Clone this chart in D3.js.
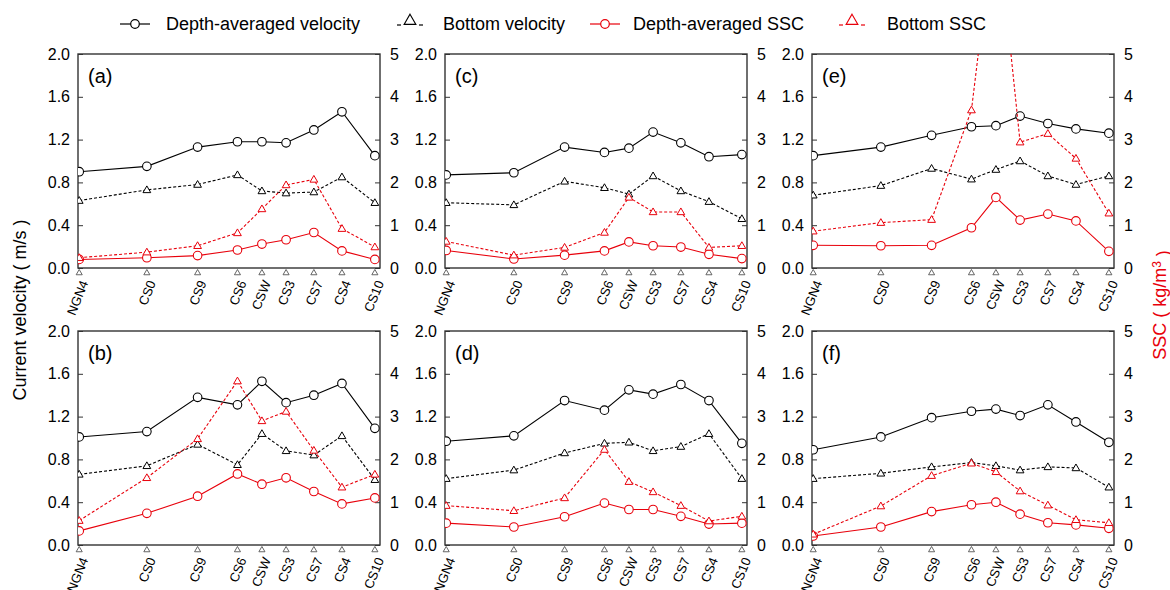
<!DOCTYPE html>
<html>
<head>
<meta charset="utf-8">
<script src="https://cdn.jsdelivr.net/npm/d3@7"></script>
<style>
  body { margin: 0; background: #fff; }
  svg { font-family: "Liberation Sans", Arial, sans-serif; }
</style>
</head>
<body>
<svg id="chart" width="1170" height="590"></svg>
<script>
// Stations and their along-channel position (0-100)
const stations = ['NGN4', 'CS0', 'CS9', 'CS6', 'CSW', 'CS3', 'CS7', 'CS4', 'CS10'];
const stationPos = [0.4, 22.8, 39.6, 52.8, 60.9, 68.9, 78.1, 87.4, 98.3];

const panelLabels = ['(a)', '(b)', '(c)', '(d)', '(e)', '(f)'];

// velocity (m/s)
const depthVel = [
  [0.90, 0.95, 1.13, 1.18, 1.18, 1.17, 1.29, 1.46, 1.05],
  [1.01, 1.06, 1.38, 1.31, 1.53, 1.33, 1.40, 1.51, 1.09],
  [0.87, 0.89, 1.13, 1.08, 1.12, 1.27, 1.17, 1.04, 1.06],
  [0.97, 1.02, 1.35, 1.26, 1.45, 1.41, 1.50, 1.35, 0.95],
  [1.05, 1.13, 1.24, 1.32, 1.33, 1.42, 1.35, 1.30, 1.26],
  [0.89, 1.01, 1.19, 1.25, 1.27, 1.21, 1.31, 1.15, 0.96]
];
const bottomVel = [
  [0.63, 0.73, 0.78, 0.87, 0.72, 0.70, 0.71, 0.85, 0.61],
  [0.66, 0.74, 0.94, 0.75, 1.04, 0.88, 0.84, 1.02, 0.61],
  [0.61, 0.59, 0.81, 0.75, 0.69, 0.86, 0.72, 0.62, 0.46],
  [0.62, 0.70, 0.86, 0.95, 0.96, 0.88, 0.92, 1.04, 0.62],
  [0.68, 0.77, 0.93, 0.83, 0.92, 1.00, 0.86, 0.78, 0.86],
  [0.62, 0.67, 0.73, 0.77, 0.74, 0.70, 0.73, 0.72, 0.54]
];
// SSC (kg/m3)
const depthSSC = [
  [0.20, 0.24, 0.29, 0.42, 0.56, 0.66, 0.83, 0.40, 0.20],
  [0.33, 0.74, 1.14, 1.66, 1.42, 1.57, 1.25, 0.96, 1.10],
  [0.41, 0.21, 0.30, 0.40, 0.61, 0.52, 0.49, 0.32, 0.22],
  [0.51, 0.42, 0.66, 0.98, 0.83, 0.83, 0.67, 0.49, 0.51],
  [0.53, 0.52, 0.53, 0.94, 1.65, 1.12, 1.26, 1.10, 0.39],
  [0.21, 0.42, 0.78, 0.94, 1.00, 0.72, 0.52, 0.47, 0.39]
];
const bottomSSC = [
  [0.24, 0.37, 0.52, 0.82, 1.38, 1.94, 2.07, 0.92, 0.49],
  [0.57, 1.57, 2.48, 3.83, 2.90, 3.12, 2.21, 1.35, 1.65],
  [0.62, 0.30, 0.48, 0.83, 1.65, 1.31, 1.31, 0.48, 0.52],
  [0.92, 0.80, 1.10, 2.23, 1.48, 1.24, 0.92, 0.56, 0.67],
  [0.86, 1.06, 1.13, 3.69, 8.4, 2.94, 3.14, 2.56, 1.28],
  [0.25, 0.91, 1.62, 1.91, 1.71, 1.26, 0.93, 0.59, 0.52]
];

const velTicks = [0, 0.4, 0.8, 1.2, 1.6, 2.0];
const sscTicks = [0, 1, 2, 3, 4, 5];

const svg = d3.select('#chart');
const colLeft = [78, 445, 812];
const rowTop = [54, 331];
const pw = 302, ph = 214;

const x = d3.scaleLinear().domain([0, 100]).range([0, pw]);
const yV = d3.scaleLinear().domain([0, 2]).range([ph, 0]);
const yS = d3.scaleLinear().domain([0, 5]).range([ph, 0]);

const tri = d3.symbol().type(d3.symbolTriangle).size(26);
const triSmall = d3.symbol().type(d3.symbolTriangle).size(16);

panelLabels.forEach((lab, i) => {
  const col = Math.floor(i / 2), row = i % 2;
  const g = svg.append('g').attr('transform', `translate(${colLeft[col]},${rowTop[row]})`);

  // clip so off-scale values get cut at the frame
  const clipId = 'clip' + i;
  g.append('clipPath').attr('id', clipId)
    .append('rect').attr('width', pw).attr('height', ph);

  // left axis
  const la = g.append('g').call(d3.axisLeft(yV).tickValues(velTicks).tickSize(-5).tickPadding(8).tickFormat(d3.format('.1f')));
  // right axis
  const ra = g.append('g').attr('transform', `translate(${pw},0)`)
    .call(d3.axisRight(yS).tickValues(sscTicks).tickSize(-5).tickPadding(10).tickFormat(d3.format('d')));
  [la, ra].forEach(a => {
    a.select('.domain').remove();
    a.selectAll('text').style('font-size', '16px').attr('fill', '#000');
    a.selectAll('line').attr('stroke', '#333');
  });

  g.append('rect').attr('width', pw).attr('height', ph)
    .attr('fill', 'none').attr('stroke', '#333').attr('stroke-width', 1.4);

  g.append('text').attr('x', 10).attr('y', 29).style('font-size', '20px').text(lab);

  const plot = g.append('g').attr('clip-path', `url(#${clipId})`);
  const pts = (vals, ys) => vals.map((v, k) => [x(stationPos[k]), ys(v)]);
  const line = d3.line();

  const series = [
    { vals: depthVel[i], ys: yV, color: '#000', dash: null, mark: 'c' },
    { vals: bottomVel[i], ys: yV, color: '#000', dash: '3,2', mark: 't' },
    { vals: depthSSC[i], ys: yS, color: '#e8000b', dash: null, mark: 'c' },
    { vals: bottomSSC[i], ys: yS, color: '#e8000b', dash: '3,2', mark: 't' }
  ];
  series.forEach(s => {
    const p = pts(s.vals, s.ys);
    plot.append('path').attr('d', line(p)).attr('fill', 'none')
      .attr('stroke', s.color).attr('stroke-width', 1.1)
      .attr('stroke-dasharray', s.dash);
    p.forEach(q => {
      if (s.mark === 'c') {
        plot.append('circle').attr('cx', q[0]).attr('cy', q[1]).attr('r', 4.3)
          .attr('fill', '#fff').attr('stroke', s.color).attr('stroke-width', 1.1);
      } else {
        plot.append('path').attr('d', tri).attr('transform', `translate(${q[0]},${q[1] + 0.5})`)
          .attr('fill', '#fff').attr('stroke', s.color).attr('stroke-width', 1);
      }
    });
  });

  // station markers below the axis and rotated station names
  stations.forEach((st, k) => {
    const sx = x(stationPos[k]);
    g.append('path').attr('d', triSmall).attr('transform', `translate(${sx},${ph + 5})`)
      .attr('fill', '#fff').attr('stroke', '#555').attr('stroke-width', 0.9);
    g.append('text')
      .attr('transform', `translate(${sx + 5},${ph + 13}) rotate(-68)`)
      .attr('text-anchor', 'end').attr('dy', '0.35em')
      .style('font-size', '13px').text(st);
  });
});

// axis titles
svg.append('text').attr('transform', 'translate(26,310) rotate(-90)')
  .attr('text-anchor', 'middle').style('font-size', '18px').text('Current velocity ( m/s )');
const sscTitle = svg.append('text').attr('transform', 'translate(1166,305) rotate(-90)')
  .attr('text-anchor', 'middle').style('font-size', '18px').attr('fill', '#e8000b');
sscTitle.append('tspan').text('SSC ( kg/m');
sscTitle.append('tspan').attr('dy', '-0.45em').style('font-size', '12px').text('3');
sscTitle.append('tspan').attr('dy', '0.45em').text(' )');

// legend
const legendItems = [
  { name: 'Depth-averaged velocity', color: '#000', mark: 'c', sx: 135, tx: 166 },
  { name: 'Bottom velocity', color: '#000', mark: 't', sx: 410, tx: 443 },
  { name: 'Depth-averaged SSC', color: '#e8000b', mark: 'c', sx: 605, tx: 633 },
  { name: 'Bottom SSC', color: '#e8000b', mark: 't', sx: 852, tx: 887 }
];
const ly = 24;
legendItems.forEach(it => {
  const lg = svg.append('g');
  if (it.mark === 'c') {
    lg.append('line').attr('x1', it.sx - 15).attr('x2', it.sx + 15).attr('y1', ly).attr('y2', ly)
      .attr('stroke', it.color).attr('stroke-width', 1.2);
    lg.append('circle').attr('cx', it.sx).attr('cy', ly).attr('r', 4.3)
      .attr('fill', '#fff').attr('stroke', it.color).attr('stroke-width', 1.2);
  } else {
    [-13, 9].forEach(o => lg.append('line').attr('x1', it.sx + o).attr('x2', it.sx + o + 4)
      .attr('y1', ly + 1).attr('y2', ly + 1).attr('stroke', it.color).attr('stroke-width', 1.2));
    lg.append('path').attr('d', d3.symbol().type(d3.symbolTriangle).size(60))
      .attr('transform', `translate(${it.sx},${ly - 3})`)
      .attr('fill', 'none').attr('stroke', it.color).attr('stroke-width', 1.1);
  }
  lg.append('text').attr('x', it.tx).attr('y', ly).attr('dy', '0.35em')
    .style('font-size', '18px').text(it.name);
});
</script>
</body>
</html>
